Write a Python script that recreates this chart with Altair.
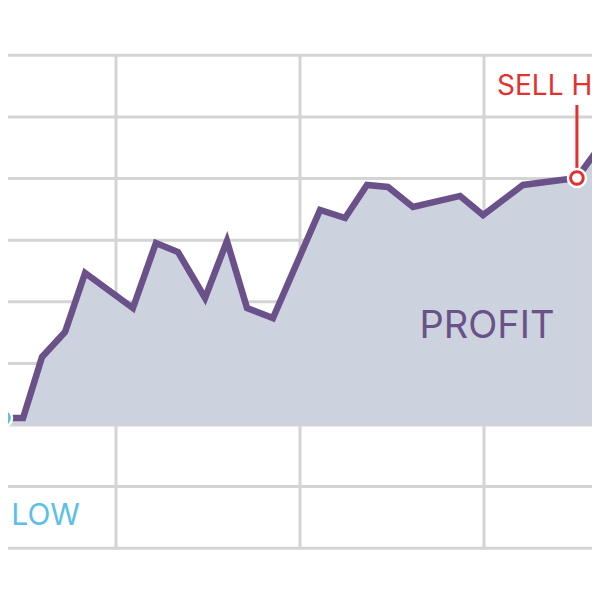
import altair as alt
import pandas as pd

# Price path (time index, price value)
t_vals = [3.86, 4.95, 5.98, 7.23, 8.32, 10.92, 12.17, 13.37, 14.84, 16.03, 17.12,
          18.53, 21.09, 22.45, 23.64, 24.78, 26.14, 28.70, 29.95, 32.12, 35.05, 36.96]
price = [1.14, 1.14, 11.04, 15.10, 24.68, 18.99, 29.55, 28.08, 20.62, 29.87, 18.99,
         17.37, 34.90, 33.60, 38.96, 38.64, 35.39, 37.18, 34.09, 38.96, 40.10, 47.89]

# Grid positions
x_grid = [10, 20, 30]
y_grid = [-20, -10, 0, 10, 20, 30, 40, 50, 60]
grid_bottom = [-20]
grid_top = [60]

# Markers
marker_label = ["BUY LOW", "SELL HIGH"]
marker_t = [3.86, 35.05]
marker_price = [1.14, 40.10]
marker_tip = [-10.6, 51.95]
marker_color = ["#5bbfe9", "#e2312e"]
label_t = [8.04, 30.71]
label_price = [-16.23, 53.57]

# Area label
area_label = ["PROFIT"]
area_label_t = [30.16]
area_label_price = [14.12]

X_DOMAIN = [4.13, 35.87]
Y_DOMAIN = [-27.11, 67.69]
W = 584
H = 584

PURPLE = "#6a5189"
FILL = "#ccd3de"
GRID = "#d4d4d4"
FONT = "Inter"

df = pd.DataFrame({"t": t_vals, "p": price})
mk = pd.DataFrame({"label": marker_label, "t": marker_t, "p": marker_price,
                   "tip": marker_tip, "color": marker_color,
                   "lt": label_t, "lp": label_price})
pl = pd.DataFrame({"label": area_label, "t": area_label_t, "p": area_label_price})
gx = pd.DataFrame({"t": x_grid, "lo": grid_bottom * len(x_grid), "hi": grid_top * len(x_grid)})
gy = pd.DataFrame({"p": y_grid})

xs = alt.Scale(domain=X_DOMAIN, nice=False, zero=False)
ys = alt.Scale(domain=Y_DOMAIN, nice=False, zero=False)
noax = None

hgrid = alt.Chart(gy).mark_rule(color=GRID, strokeWidth=3).encode(
    y=alt.Y("p:Q", scale=ys, axis=noax), x=alt.value(0), x2=alt.value(W)
)
vgrid = alt.Chart(gx).mark_rule(color=GRID, strokeWidth=3).encode(
    x=alt.X("t:Q", scale=xs, axis=noax), y=alt.Y("lo:Q", scale=ys, axis=noax), y2="hi:Q"
)
area = alt.Chart(df).mark_area(color=FILL, clip=True).encode(
    x=alt.X("t:Q", scale=xs, axis=noax),
    y=alt.Y("p:Q", scale=ys, axis=noax),
    y2=alt.datum(0),
)
line = alt.Chart(df).mark_line(color=PURPLE, strokeWidth=6.5, clip=True).encode(
    x=alt.X("t:Q", scale=xs, axis=noax), y=alt.Y("p:Q", scale=ys, axis=noax)
)
rules = alt.Chart(mk).mark_rule(strokeWidth=3).encode(
    x=alt.X("t:Q", scale=xs, axis=noax), y=alt.Y("p:Q", scale=ys, axis=noax), y2="tip:Q",
    color=alt.Color("color:N", scale=None)
)
halo = alt.Chart(mk).mark_point(shape="circle", filled=True, color="white",
                                opacity=1, size=420).encode(
    x=alt.X("t:Q", scale=xs, axis=noax), y=alt.Y("p:Q", scale=ys, axis=noax)
)
rings = alt.Chart(mk).mark_point(shape="circle", filled=False, fill="white",
                                 fillOpacity=1, strokeWidth=3, opacity=1, size=160).encode(
    x=alt.X("t:Q", scale=xs, axis=noax), y=alt.Y("p:Q", scale=ys, axis=noax),
    stroke=alt.Stroke("color:N", scale=None)
)
mlabel_low = alt.Chart(mk.iloc[[0]]).mark_text(
    align="right", baseline="alphabetic", fontSize=30, font=FONT
).encode(
    x=alt.X("lt:Q", scale=xs, axis=noax), y=alt.Y("lp:Q", scale=ys, axis=noax), text="label:N",
    color=alt.Color("color:N", scale=None)
)
mlabel_high = alt.Chart(mk.iloc[[1]]).mark_text(
    align="left", baseline="alphabetic", fontSize=28, font=FONT
).encode(
    x=alt.X("lt:Q", scale=xs, axis=noax), y=alt.Y("lp:Q", scale=ys, axis=noax), text="label:N",
    color=alt.Color("color:N", scale=None)
)
plabel = alt.Chart(pl).mark_text(
    align="center", baseline="alphabetic", fontSize=38, font=FONT, color=PURPLE
).encode(
    x=alt.X("t:Q", scale=xs, axis=noax), y=alt.Y("p:Q", scale=ys, axis=noax), text="label:N"
)

chart = alt.layer(hgrid, vgrid, area, line, rules, halo, rings,
                  mlabel_low, mlabel_high, plabel).properties(
    width=W, height=H, autosize=alt.AutoSizeParams(type="none"), padding=0,
    background="white"
).configure_view(stroke=None)

chart.save("out.html", embed_options={"renderer": "svg", "actions": False})
